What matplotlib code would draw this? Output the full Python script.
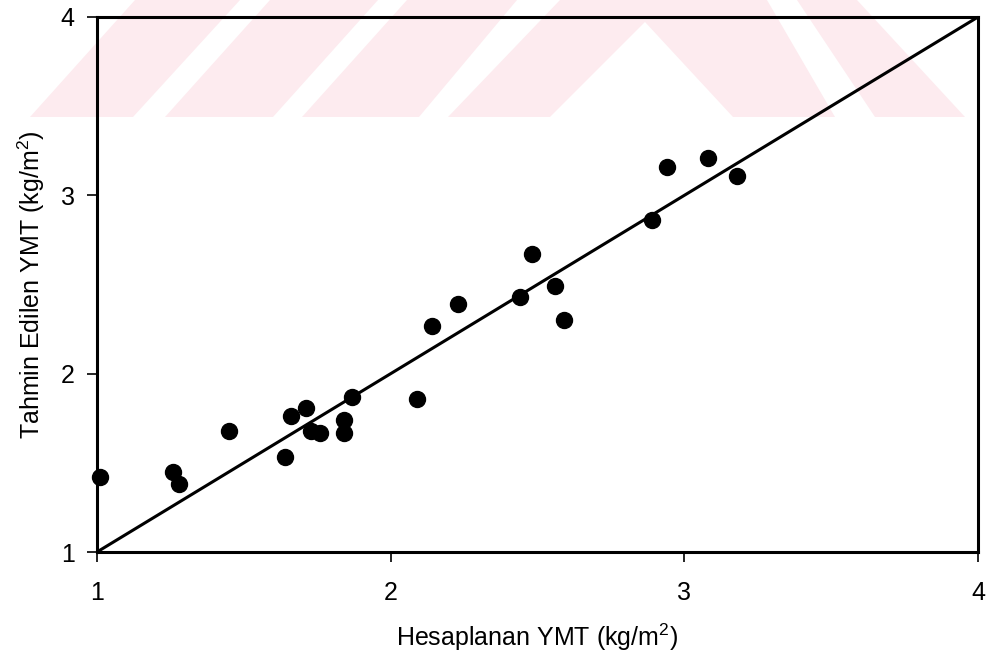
import numpy as np
import matplotlib
matplotlib.use("Agg")
import matplotlib.pyplot as plt
from matplotlib.patches import Polygon

plt.rcParams['font.family'] = ['Liberation Sans', 'DejaVu Sans']

# Hesaplanan (x) ve tahmin edilen (y) YMT degerleri, kg/m2
hesaplanan = [1.01, 1.26, 1.28, 1.45, 1.64, 1.66, 1.71, 1.73, 1.76, 1.84, 1.84,
              1.87, 2.09, 2.14, 2.23, 2.44, 2.48, 2.56, 2.59, 2.89, 2.94, 3.08, 3.18]
tahmin = [1.42, 1.45, 1.38, 1.68, 1.53, 1.76, 1.81, 1.68, 1.67, 1.74, 1.67,
          1.87, 1.86, 2.27, 2.39, 2.43, 2.67, 2.49, 2.30, 2.86, 3.16, 3.21, 3.11]
esit_cizgi = [1, 4]
ticks = [1, 2, 3, 4]

W, H = 993, 658
fig = plt.figure(figsize=(W / 100, H / 100), dpi=100)

# soluk filigran (pembe seritler), piksel olarak
pembe = '#fdebef'
seritler = [
    [(30, 117), (133, 117), (240, 0), (135, 0)],
    [(165, 117), (273, 117), (378, 0), (270, 0)],
    [(302, 117), (419, 117), (517, 0), (407, 0)],
    [(448, 117), (560, 0), (767, 0), (835, 117)],
    [(797, 0), (857, 0), (965, 117), (875, 117)],
]
for s in seritler:
    pts = [(px / W, 1 - py / H) for px, py in s]
    fig.patches.append(Polygon(pts, closed=True, transform=fig.transFigure,
                               facecolor=pembe, edgecolor='none', zorder=0))
ucgen = [(550, 117), (645, 22), (733, 117)]
fig.patches.append(Polygon([(px / W, 1 - py / H) for px, py in ucgen], closed=True,
                           transform=fig.transFigure, facecolor='white',
                           edgecolor='none', zorder=0.5))

ax = fig.add_axes([97 / W, 1 - 552 / H, (978 - 97) / W, (552 - 17) / H])
ax.set_zorder(2)
ax.patch.set_alpha(0)

ax.plot(esit_cizgi, esit_cizgi, color='black', linewidth=2.2)
ax.plot(hesaplanan, tahmin, 'o', color='black', markersize=11.5, clip_on=False)

ax.set_xlim(1, 4)
ax.set_ylim(1, 4)
ax.set_xticks(ticks)
ax.set_yticks(ticks)
ax.tick_params(axis='both', direction='out', length=7, width=1.2, labelsize=18)
ax.tick_params(axis='x', pad=14)
ax.tick_params(axis='y', pad=9)
for sp in ax.spines.values():
    sp.set_linewidth(2.2)

ax.set_xlabel('Hesaplanan YMT (kg/m$^{\\mathregular{2}}$)', fontsize=18, labelpad=12)
ax.set_ylabel('Tahmin Edilen YMT (kg/m$^{\\mathregular{2}}$)', fontsize=18, labelpad=10)

fig.savefig('out.png', dpi=100)
